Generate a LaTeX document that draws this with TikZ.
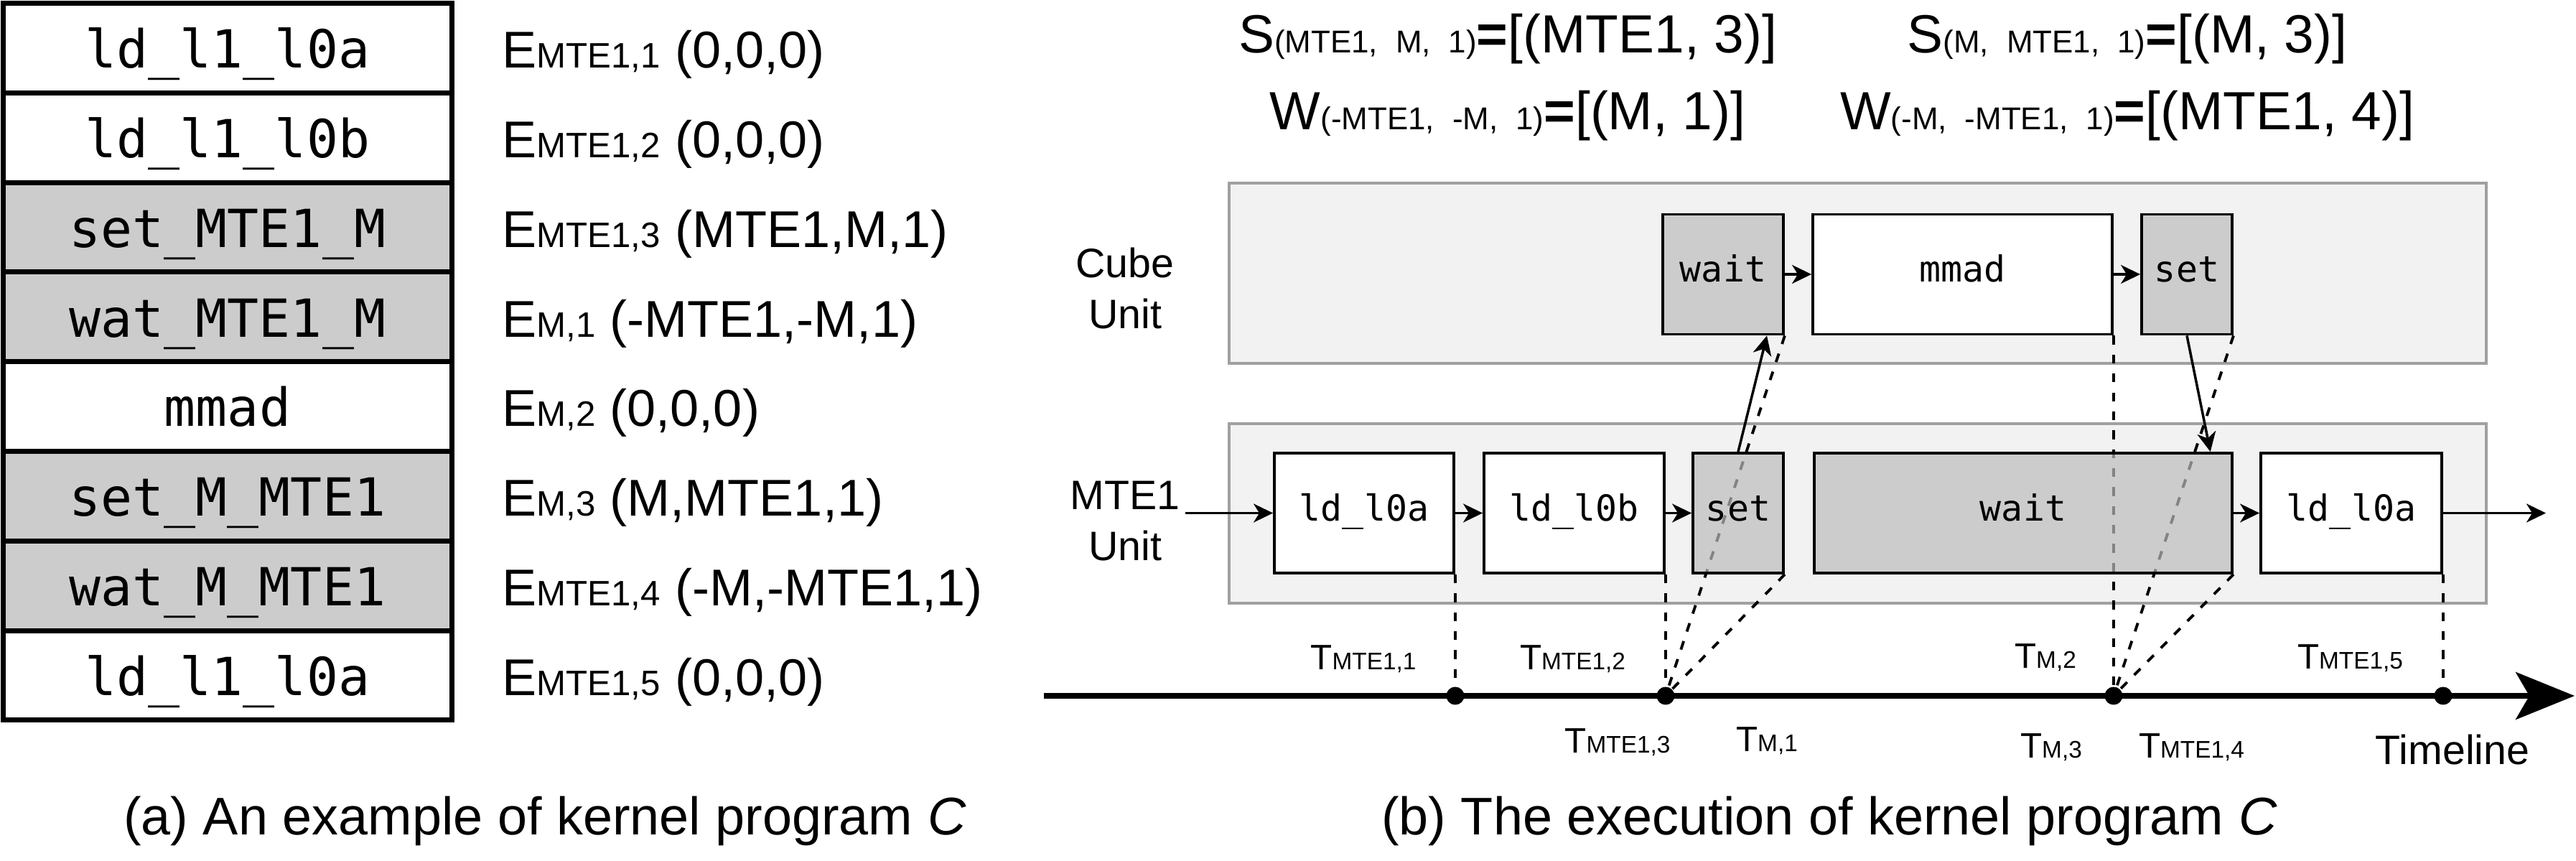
\documentclass[tikz,border=0pt]{standalone}
\usepackage{fontspec}
\setmainfont{Liberation Sans}
\newfontfamily\codefont{DejaVu Sans Mono}
\usetikzlibrary{positioning,arrows.meta,calc}
\pgfdeclarelayer{back}
\pgfdeclarelayer{mid}
\pgfsetlayers{back,mid,main}
\definecolor{opgray}{HTML}{CCCCCC}
\definecolor{taskgray}{gray}{0.736}
\definecolor{unitfill}{HTML}{F2F2F2}
\definecolor{unitline}{HTML}{A0A0A0}
\newcommand{\fsz}[1]{\fontsize{#1}{#1}\selectfont}
\newcommand{\gap}{\hspace{0.25cm}}
\newcommand{\Elab}[2]{\fsz{20.5pt}E{\fsz{14pt}#1} #2}
\newcommand{\Tlab}[1]{{\fsz{14pt}T}{\fsz{9.5pt}#1}}
\newcommand{\SWlab}[3]{\fsz{21.3pt}#1{\fsz{12.5pt}(#2)}\textbf{=}[(#3)]}

\begin{document}
\begin{tikzpicture}[on grid, node distance=1.248cm and 3cm,
>={Stealth[length=0.27cm,width=0.26cm,inset=0.08cm]},
row/.style={draw, line width=2pt, minimum width=6.25cm, minimum height=1.248cm,
  inner sep=0pt, font=\codefont\fsz{20.8pt}, text height=15.8pt, text depth=0pt},
oprow/.style={row, fill=opgray},
elab/.style={anchor=base west, inner sep=0pt},
swlab/.style={anchor=base, inner sep=0pt},
unit/.style={draw=unitline, line width=0.95pt, fill=unitfill, minimum width=17.51cm},
unitlab/.style={align=center, inner sep=0pt, font=\fontsize{16.3pt}{20.2pt}\selectfont},
task/.style={draw, line width=1.1pt, fill=white, minimum height=1.67cm,
  inner sep=0pt, font=\codefont\fsz{14.2pt}, text height=8.5pt, text depth=2.3pt},
optask/.style={task, fill=taskgray, fill opacity=0.7, text opacity=1},
feed/.style={line width=1pt},
guide/.style={line width=1.1pt, dash pattern=on 3.5pt off 4pt},
tick/.style={circle, fill, inner sep=0pt, minimum size=0.25cm},
tlab/.style={anchor=base, inner sep=0pt},
caption/.style={anchor=base, inner sep=0pt, font=\fsz{21pt}}
]
\useasboundingbox (0,0) rectangle (35.88,-11.99);

% (a) kernel program
\node[row] (r1) at (3.17,-0.669) {ld\_l1\_l0a};
\node[row] (r2) [below = of r1] {ld\_l1\_l0b};
\node[oprow] (r3) [below = of r2] {set\_MTE1\_M};
\node[oprow] (r4) [below = of r3] {wat\_MTE1\_M};
\node[row] (r5) [below = of r4] {mmad};
\node[oprow] (r6) [below = of r5] {set\_M\_MTE1};
\node[oprow] (r7) [below = of r6] {wat\_M\_MTE1};
\node[row] (r8) [below = of r7] {ld\_l1\_l0a};
\node (e1) [right = 3.82cm of r1.base, elab] {\Elab{MTE1,1}{(0,0,0)}};
\node (e2) [right = 3.82cm of r2.base, elab] {\Elab{MTE1,2}{(0,0,0)}};
\node (e3) [right = 3.82cm of r3.base, elab] {\Elab{MTE1,3}{(MTE1,M,1)}};
\node (e4) [right = 3.82cm of r4.base, elab] {\Elab{M,1}{(-MTE1,-M,1)}};
\node (e5) [right = 3.82cm of r5.base, elab] {\Elab{M,2}{(0,0,0)}};
\node (e6) [right = 3.82cm of r6.base, elab] {\Elab{M,3}{(M,MTE1,1)}};
\node (e7) [right = 3.82cm of r7.base, elab] {\Elab{MTE1,4}{(-M,-MTE1,1)}};
\node (e8) [right = 3.82cm of r8.base, elab] {\Elab{MTE1,5}{(0,0,0)}};
\node[caption] (capa) at (7.59,-11.62) {(a) An example of kernel program \textit{C}};

% (b) execution
\node[swlab] (s1) at (21.0,-0.74) {\SWlab{S}{MTE1,\gap M,\gap 1}{MTE1, 3}};
\node[swlab] (w1) at (21.0,-1.81) {\SWlab{W}{-MTE1,\gap -M,\gap 1}{M, 1}};
\node[swlab] (s2) at (29.63,-0.74) {\SWlab{S}{M,\gap MTE1,\gap 1}{M, 3}};
\node[swlab] (w2) at (29.63,-1.81) {\SWlab{W}{-M,\gap -MTE1,\gap 1}{MTE1, 4}};

\node[unitlab] (cubelab) at (15.67,-4.015) {Cube\\Unit};
\node[unitlab] (mtelab) at (15.67,-7.255) {MTE1\\Unit};
\coordinate (mtein) at (16.51,-7.145);
\coordinate (mteout) at (35.46,-7.145);

\node[optask, minimum width=1.68cm] (cwait) at (24.00,-3.82) {wait};
\node[task, minimum width=4.17cm] (cmmad) [right = 3.335cm of cwait] {mmad}
    edge[<-, feed] (cwait);
\node[optask, minimum width=1.26cm] (cset) [right = 3.125cm of cmmad] {set}
    edge[<-, feed] (cmmad);

\node[task, minimum width=2.50cm] (lda) at (19.00,-7.145) {ld\_l0a}
    edge[<-, feed] (mtein);
\node[task, minimum width=2.51cm] (ldb) [right = 2.925cm of lda] {ld\_l0b}
    edge[<-, feed] (lda);
\node[optask, minimum width=1.26cm] (mset) [right = 2.285cm of ldb] {set}
    edge[<-, feed] (ldb);
\node[optask, minimum width=5.82cm] (mwait) [right = 3.97cm of mset] {wait};
\node[task, minimum width=2.52cm] (lda2) [right = 4.57cm of mwait] {ld\_l0a}
    edge[<-, feed] (mwait)
    edge[->, feed] (mteout);

\begin{pgfonlayer}{back}
\node[unit, minimum height=2.51cm] (cube) at (25.875,-3.805) {};
\node[unit, minimum height=2.50cm] (mte) at (25.875,-7.15) {};
\end{pgfonlayer}

\draw[feed, ->] (mset.north) -- ($(cwait.south)!0.71!(cwait.south east)$);
\draw[feed, ->] (cset.south) -- ($(mwait.north)!0.89!(mwait.north east)$);

% timeline
\coordinate (tl0) at (14.54,-9.69);
\coordinate (tl1) at (35.86,-9.69);
\draw[line width=2pt, -{Stealth[length=0.82cm,width=0.66cm,inset=0.19cm]}] (tl0) -- (tl1);
\node[tick] (d1) at (lda.south east |- tl0) {};
\node[tick] (d2) at (ldb.south east |- tl0) {};
\node[tick] (d3) at (cmmad.south east |- tl0) {};
\node[tick] (d4) at (lda2.south east |- tl0) {};

\begin{pgfonlayer}{mid}
\draw[guide] (lda.south east) -- (d1.center);
\draw[guide] (ldb.south east) -- (d2.center);
\draw[guide] (mset.south east) -- (d2.center);
\draw[guide] (cwait.south east) -- (d2.center);
\draw[guide] (cmmad.south east) -- (d3.center);
\draw[guide] (cset.south east) -- (d3.center);
\draw[guide] (mwait.south east) -- (d3.center);
\draw[guide] (lda2.south east) -- (d4.center);
\end{pgfonlayer}

\node[tlab] (t11) at (18.99,-9.33) {\Tlab{MTE1,1}};
\node[tlab] (t12) at (21.905,-9.33) {\Tlab{MTE1,2}};
\node[tlab] (tm2) at (28.49,-9.31) {\Tlab{M,2}};
\node[tlab] (t15) at (32.735,-9.32) {\Tlab{MTE1,5}};
\node[tlab] (t13) at (22.53,-10.49) {\Tlab{MTE1,3}};
\node[tlab] (tm1) at (24.61,-10.47) {\Tlab{M,1}};
\node[tlab] (tm3) at (28.57,-10.55) {\Tlab{M,3}};
\node[tlab] (t14) at (30.525,-10.56) {\Tlab{MTE1,4}};
\node[tlab, font=\fsz{16.3pt}] (tlname) at (34.16,-10.65) {Timeline};

\node[caption] (capb) at (25.48,-11.62) {(b) The execution of kernel program \textit{C}};
\end{tikzpicture}
\end{document}
